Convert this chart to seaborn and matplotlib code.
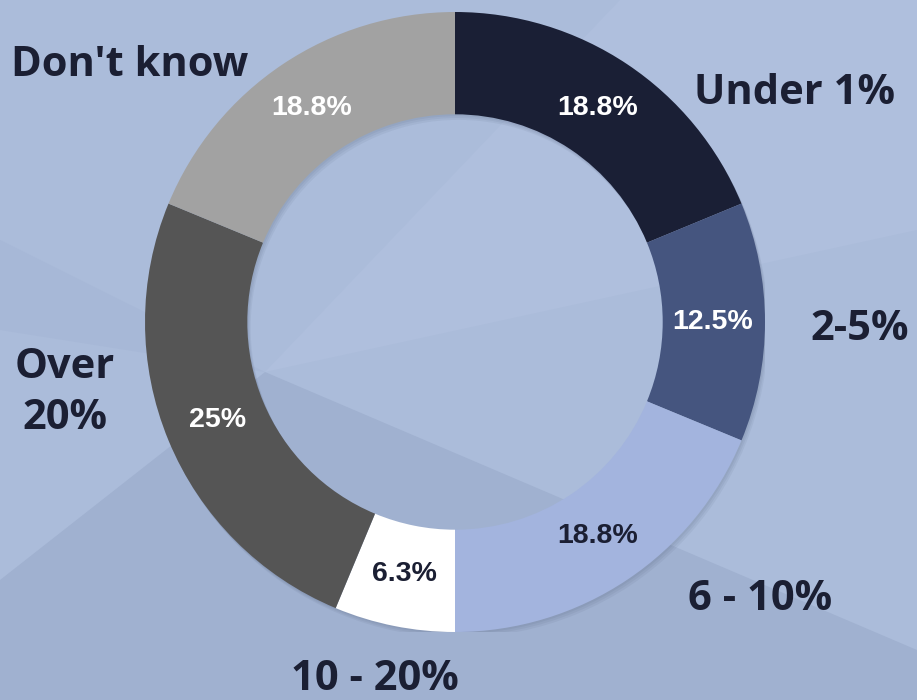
import matplotlib
matplotlib.use("Agg")
import matplotlib.pyplot as plt
import seaborn as sns
import numpy as np
from matplotlib.patches import Polygon, Wedge

# ---- data ----
categories = ["Under 1%", "2-5%", "6 - 10%", "10 - 20%", "Over\n20%", "Don't know"]
shares = [18.8, 12.5, 18.8, 6.3, 25.0, 18.8]
pct_labels = ["18.8%", "12.5%", "18.8%", "6.3%", "25%", "18.8%"]

# ---- style ----
colors = ["#1a1f35", "#45557f", "#a3b4de", "#ffffff", "#555555", "#a2a2a2"]
pct_colors = ["white", "white", "#1b1f33", "#1b1f33", "white", "white"]
cat_pos = [(795, 93), (860, 330), (760, 600), (375, 680), (65, 393), (130, 65)]
NAVY = "#1b1f33"

sns.set_theme(style="white")
plt.rcParams['font.family'] = ['Open Sans', 'DejaVu Sans']

W, H = 917, 700
fig = plt.figure(figsize=(9.17, 7), dpi=100)
fig.patch.set_facecolor("#abbcda")

# background geometric shading
bg = fig.add_axes([0, 0, 1, 1], zorder=0)
bg.set_xlim(0, W); bg.set_ylim(H, 0); bg.axis('off')
bg.add_patch(Polygon([(0, 0), (W, 0), (W, H), (0, H)], color="#abbcda", lw=0))
bg.add_patch(Polygon([(265, 372), (W, 650), (W, H), (0, H), (0, 580)], color="#a0b1d0", lw=0))
bg.add_patch(Polygon([(265, 372), (620, 0), (W, 0), (W, 230)], color="#afbfdd", lw=0))
bg.add_patch(Polygon([(0, 240), (265, 372), (0, 330)], color="#a7b8d7", lw=0))

# donut
ax = fig.add_axes([145 / W, (H - 322 - 310) / H, 620 / W, 620 / H], zorder=1)
# soft shadow ring
for k, a in enumerate([0.06, 0.06, 0.06]):
    d = 0.006 * (k + 1)
    ax.add_patch(Wedge((d * 0.6, -d), 1.0, 0, 360, width=0.33, color="#2a3550", alpha=a, lw=0))
wedges, _ = ax.pie(shares, colors=colors, startangle=90, counterclock=False,
                   radius=1, wedgeprops=dict(width=0.33, edgecolor='none'))
ax.set_xlim(-1, 1); ax.set_ylim(-1, 1); ax.set_aspect('equal'); ax.axis('off')

for w, lab, c in zip(wedges, pct_labels, pct_colors):
    ang = np.deg2rad((w.theta1 + w.theta2) / 2)
    r = 0.83
    ax.text(r * np.cos(ang), r * np.sin(ang), lab, ha='center', va='center',
            fontsize=20.5, fontweight='bold', color=c, family=['Liberation Sans', 'DejaVu Sans'])

for lab, (x, y) in zip(categories, cat_pos):
    fig.text(x / W, 1 - y / H, lab, ha='center', va='center', fontsize=30,
             fontweight='bold', color=NAVY, linespacing=1.3)

fig.savefig("out.png", dpi=100, facecolor=fig.get_facecolor())
